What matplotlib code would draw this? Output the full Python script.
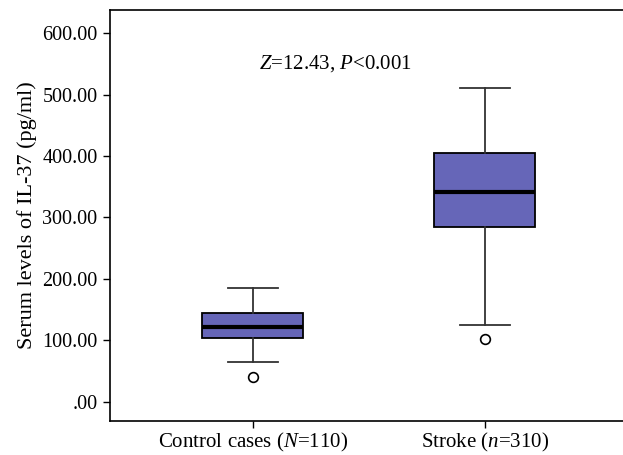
import matplotlib
matplotlib.use("Agg")
import matplotlib.pyplot as plt

categories = ["Control cases ($\\it{N}$=110)", "Stroke ($\\it{n}$=310)"]
q1 = [104.0, 285.0]
medians = [122.0, 342.0]
q3 = [144.5, 405.0]
whislo = [65.0, 125.5]
whishi = [185.0, 511.5]
fliers = [[40.5], [102.0]]
yticks = [0, 100, 200, 300, 400, 500, 600]
ytick_labels = [".00", "100.00", "200.00", "300.00", "400.00", "500.00", "600.00"]

plt.rcParams['font.family'] = ['Liberation Serif', 'DejaVu Serif']
plt.rcParams['mathtext.fontset'] = 'custom'
plt.rcParams['mathtext.rm'] = 'Liberation Serif'
plt.rcParams['mathtext.it'] = 'Liberation Serif:italic'

fig = plt.figure(figsize=(6.23, 4.55), dpi=100)
ax = fig.add_axes([110/623, (455-421)/455, (623-110)/623, (421-9.5)/455])

stats = []
for i in range(len(categories)):
    stats.append(dict(med=medians[i], q1=q1[i], q3=q3[i], whislo=whislo[i],
                      whishi=whishi[i], fliers=fliers[i], label=categories[i]))

ax.bxp(stats, positions=[1, 2], widths=0.435, patch_artist=True, showfliers=True,
       boxprops=dict(facecolor="#6666b8", edgecolor="black", linewidth=1.3),
       medianprops=dict(color="black", linewidth=3),
       whiskerprops=dict(color="#333333", linewidth=1.3),
       capprops=dict(color="#333333", linewidth=1.3),
       capwidths=0.215,
       flierprops=dict(marker="o", markerfacecolor="white", markeredgecolor="black",
                       markersize=7, markeredgewidth=1.2))

ax.set_xlim(0.384, 2.595)
ax.set_ylim(-31.5, 638.5)
ax.set_yticks(yticks)
ax.set_yticklabels(ytick_labels, fontsize=14.5)
ax.tick_params(axis='x', labelsize=15, length=5, width=1, pad=2.5)
ax.tick_params(axis='y', length=5, width=1, pad=4)
ax.spines['right'].set_visible(False)
for s in ['left', 'top', 'bottom']:
    ax.spines[s].set_linewidth(1.2)
ax.set_ylabel("Serum levels of IL-37 (pg/ml)", fontsize=16, labelpad=4)

ax.text(1.358, 551, "$\\it{Z}$=12.43, $\\it{P}$<0.001", fontsize=15, ha="center", va="center")

fig.savefig("out.png", dpi=100)
